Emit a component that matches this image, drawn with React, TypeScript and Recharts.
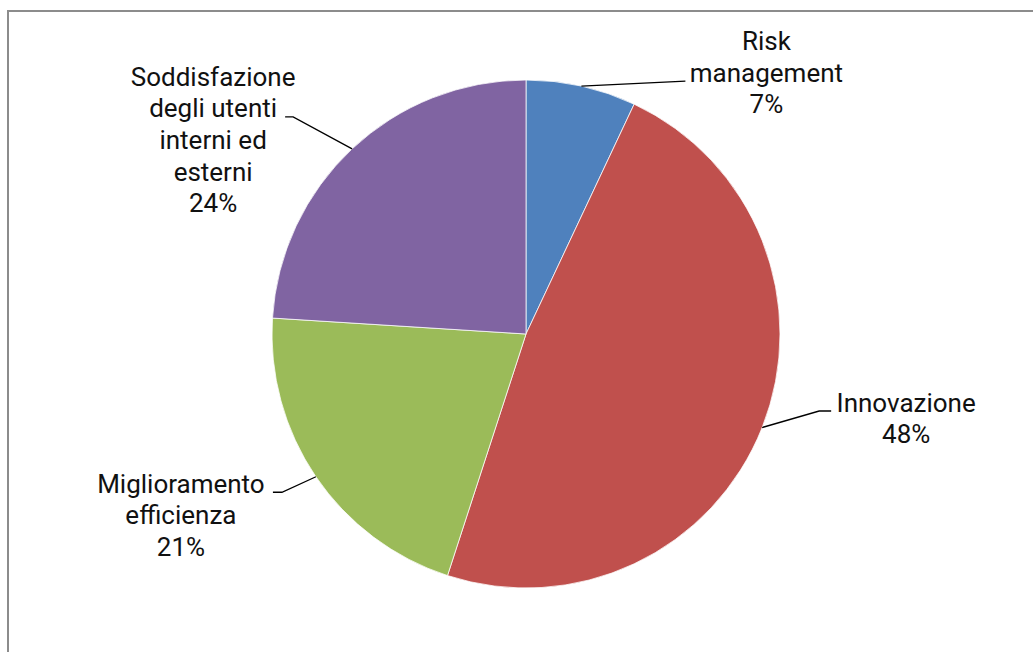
import { PieChart, Pie, Cell } from "recharts"

// slices, clockwise from 12 o'clock
const categories = [
	"Risk management",
	"Innovazione",
	"Miglioramento efficienza",
	"Soddisfazione degli utenti interni ed esterni",
]
const values = [7, 48, 21, 24]
const colors = ["#4F81BD", "#C0504D", "#9BBB59", "#8064A2"]

// how each category name wraps in its label
const labelLines = [
	["Risk", "management"],
	["Innovazione"],
	["Miglioramento", "efficienza"],
	["Soddisfazione", "degli utenti", "interni ed", "esterni"],
]

// leader line: elbow offset from the slice edge, short tail, text offset, which text line it meets
const labelLayout = [
	{ dx: 104, dy: -5, tail: 0, textDx: 81, attach: 1 },
	{ dx: 57, dy: -16.5, tail: 12, textDx: 75, attach: 0 },
	{ dx: -34, dy: 15.5, tail: -9, textDx: -92, attach: 0 },
	{ dx: -59, dy: -32, tail: -8, textDx: -72, attach: 1 },
]

const total = values.reduce((a, b) => a + b, 0)
const data = categories.map((name, i) => ({ name, value: values[i] }))

const RADIAN = Math.PI / 180
const LINE_H = 31.6

function renderLabel(props: any) {
	const { cx, cy, midAngle, outerRadius, index } = props
	const ax = cx + outerRadius * Math.cos(-midAngle * RADIAN)
	const ay = cy + outerRadius * Math.sin(-midAngle * RADIAN)
	const l = labelLayout[index]
	const ex = ax + l.dx
	const ey = ay + l.dy
	const tx = ex + l.tail
	const lines = [...labelLines[index], `${Math.round((values[index] / total) * 100)}%`]
	const textX = tx + l.textDx
	const firstBaseline = ey + 0.5 - l.attach * LINE_H
	return (
		<g key={`lbl-${index}`}>
			<polyline
				points={`${ax},${ay} ${ex},${ey} ${tx},${ey}`}
				fill="none"
				stroke="#000"
				strokeWidth={1.3}
			/>
			<text
				x={textX}
				y={firstBaseline}
				textAnchor="middle"
				fontFamily="Roboto, sans-serif"
				fontSize={26}
				fill="#111"
			>
				{lines.map((t, i) => (
					<tspan key={i} x={textX} y={firstBaseline + i * LINE_H}>
						{t}
					</tspan>
				))}
			</text>
		</g>
	)
}

export default function App() {
	return (
		<div style={{ position: "fixed", left: 0, top: 0, width: 1033, height: 652, background: "#fff" }}>
			<div
				style={{
					position: "absolute",
					left: 7,
					top: 10,
					width: 1100,
					height: 700,
					border: "2px solid #8c8c8c",
					boxSizing: "border-box",
				}}
			/>
			<div style={{ position: "absolute", left: 0, top: 0 }}>
				<PieChart width={1033} height={652} margin={{ top: 0, right: 0, bottom: 0, left: 0 }}>
					<Pie
						data={data}
						dataKey="value"
						nameKey="name"
						cx={526}
						cy={334}
						outerRadius={254}
						startAngle={90}
						endAngle={-270}
						stroke="#fff"
						strokeWidth={0.75}
						label={renderLabel}
						labelLine={false}
						isAnimationActive={false}
					>
						{data.map((d, i) => (
							<Cell key={d.name} fill={colors[i]} />
						))}
					</Pie>
				</PieChart>
			</div>
		</div>
	)
}
